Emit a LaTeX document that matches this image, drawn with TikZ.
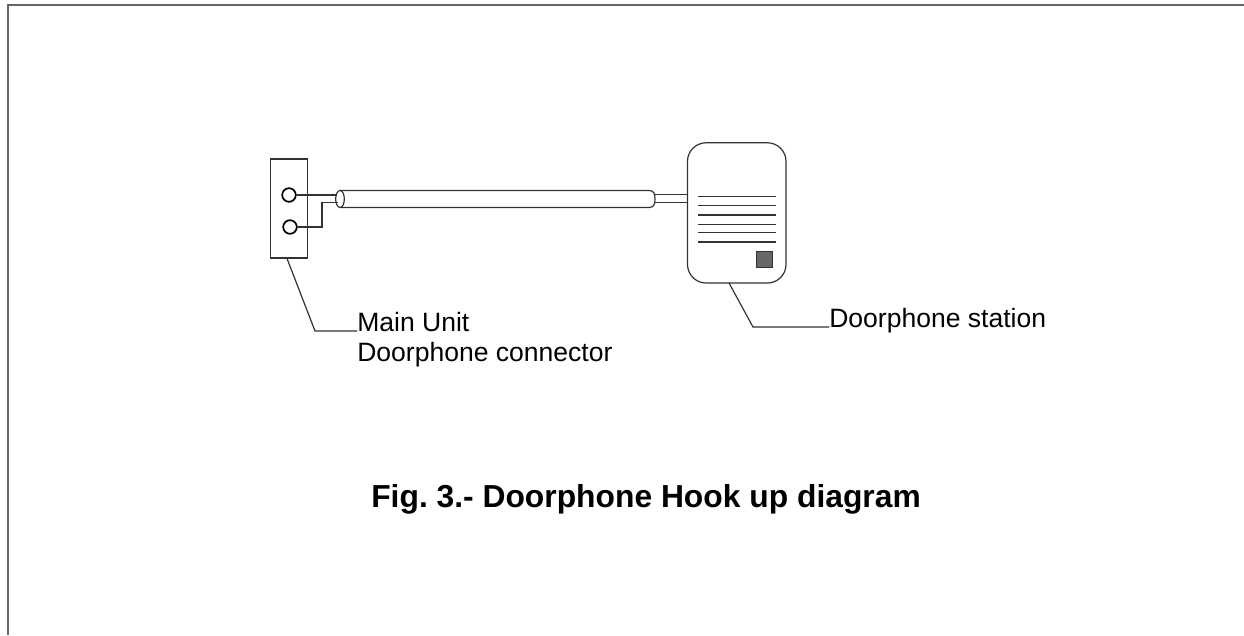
\documentclass[tikz,border=0pt]{standalone}
\usepackage{fontspec}
\setmainfont{Liberation Sans}
\frenchspacing
\usetikzlibrary{shapes.geometric}
\definecolor{ln}{HTML}{333333}
\tikzset{
  x=0.75pt,y=-0.75pt,
  thinline/.style={draw=ln,line width=0.9pt},
  boxnode/.style={thinline,rectangle,inner sep=0pt,outer sep=0pt},
  terminal/.style={draw=black,line width=1.3pt,circle,inner sep=0pt,outer sep=0pt,minimum size=10.2pt},
  rule/.style={thinline},
  label/.style={font=\fontsize{19.9pt}{24pt}\selectfont,anchor=base west,inner sep=0pt,text=black},
  titletext/.style={font=\fontsize{23.85pt}{28pt}\selectfont\bfseries,anchor=base east,inner sep=0pt,text=black},
}
\begin{document}
\begin{tikzpicture}
\useasboundingbox (0,0) rectangle (1244,635);
\fill[white] (0,0) rectangle (1244,635);
% page frame
\coordinate (fbl) at (8,635);
\coordinate (ftl) at (8,5);
\coordinate (ftr) at (1244,5);
\draw[draw=black!60,line width=1pt] (fbl) -- (ftl) -- (ftr);
% connector block
\node[boxnode,minimum width=27.75pt,minimum height=74.25pt] (block) at (289,208.5) {};
\node[terminal] (t1) at (289,195) {};
\node[terminal] (t2) at (290,227) {};
% cable
\coordinate (ctop) at (340,190.5);
\coordinate (cbot) at (340,207.5);
\node[thinline,ellipse,inner sep=0pt,outer sep=0pt,minimum width=6.5pt,minimum height=12.75pt] (cend) at (340,199) {};
\draw[thinline] (ctop) -- (649,190.5) .. controls (654,190.5) and (655,194) .. (655,199)
  .. controls (655,204) and (654,207.5) .. (649,207.5) -- (cbot);
% station
\node[boxnode,rounded corners=14pt,minimum width=73.9pt,minimum height=105.2pt] (station) at (736.75,212.9) {};
\draw[thinline] (655,194.7) -- (station.west |- 0,194.7);
\draw[thinline] (655,202.7) -- (station.west |- 0,202.7);
% wires
\coordinate (w1) at (337,195);
\coordinate (w2a) at (322,227);
\coordinate (w2b) at (322,202.5);
\coordinate (w2c) at (338,202.5);
\draw[thinline] (t1) -- (w1);
\draw[thinline] (t2) -- (w2a) -- (w2b) -- (w2c);
% speaker lines
\foreach \yy in {196.5,205.5,215,224.5,232.5,242} \draw[rule] (698,\yy) -- (775.5,\yy);
\node[draw=ln,fill=black!60,line width=0.75pt,rectangle,inner sep=0pt,outer sep=0pt,minimum width=12pt,minimum height=12pt] (button) at (764.7,259.5) {};
% labels
\node[label] (l1) at (357,331) {Main Unit};
\node[label] (l2) at (357,361) {Doorphone connector};
\node[label] (l3) at (829,327) {Doorphone station};
\node[titletext] (title) at (921,507) {Fig. 3.- Doorphone Hook up diagram};
% leaders
\coordinate (a1) at (287,258.5);
\coordinate (a2) at (315,331);
\coordinate (b1) at (729,283);
\coordinate (b2) at (753,327);
\draw[thinline] (a1) -- (a2) -- (l1.base west);
\draw[thinline] (b1) -- (b2) -- (l3.base west);
\end{tikzpicture}
\end{document}
